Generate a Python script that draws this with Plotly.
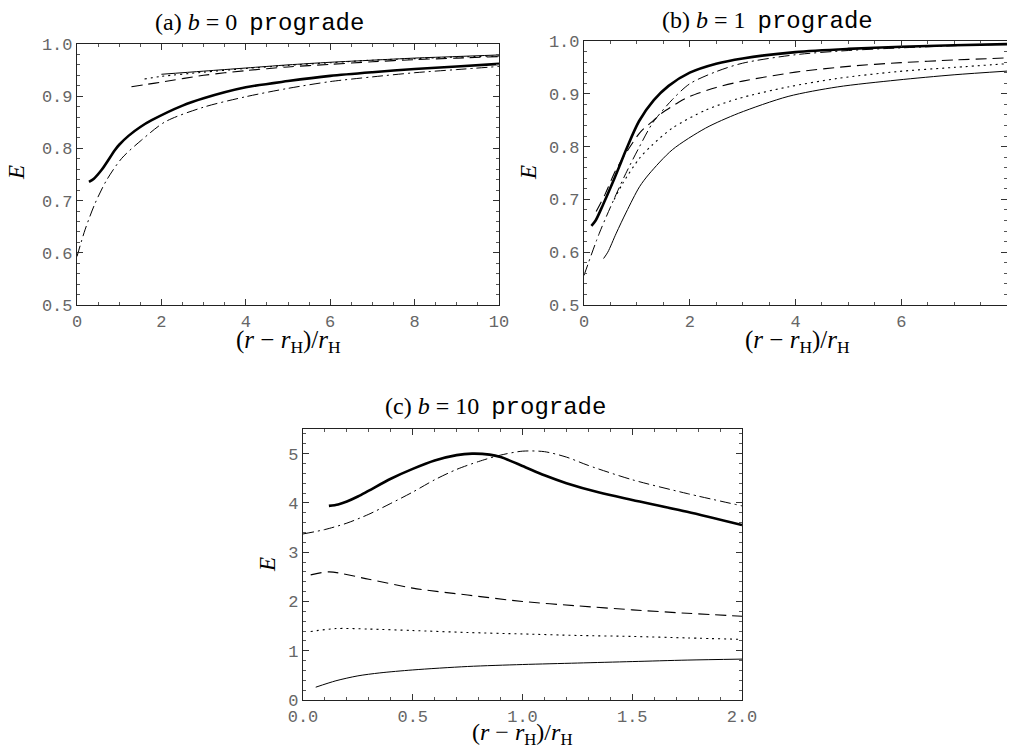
import plotly.graph_objects as go

# page body has an 8px margin; figure is sized so the page is 1015x753
OFF = 8
W, H = 1015 - 2 * OFF, 753 - 2 * OFF

# ---------------- data: panel (a) b=0 ----------------
a_thick_x = [0.284, 0.4, 0.585, 0.9, 1.0, 1.22, 1.5, 1.77, 2.5, 3.0, 4.0, 5.0, 6.0, 7.0, 8.0, 9.0, 10.0]
a_thick_y = [0.736, 0.742, 0.759, 0.797, 0.807, 0.824, 0.841, 0.854, 0.882, 0.896, 0.917, 0.929, 0.939, 0.946, 0.952, 0.957, 0.962]
a_dashdot_x = [0.0, 0.19, 0.43, 0.70, 1.06, 1.53, 2.09, 3.0, 4.0, 5.0, 6.0, 7.0, 8.0, 9.0, 10.0]
a_dashdot_y = [0.593, 0.644, 0.695, 0.739, 0.781, 0.816, 0.851, 0.879, 0.899, 0.915, 0.928, 0.937, 0.945, 0.951, 0.957]
a_thin_x = [2.0, 3.0, 4.0, 5.0, 6.0, 7.0, 8.0, 9.0, 10.0]
a_thin_y = [0.942, 0.948, 0.954, 0.960, 0.965, 0.969, 0.973, 0.976, 0.979]
a_dot_x = [1.6, 2.0, 3.0, 4.0, 5.0, 6.0, 7.0, 8.0, 9.0, 10.0]
a_dot_y = [0.933, 0.938, 0.946, 0.953, 0.959, 0.964, 0.969, 0.972, 0.975, 0.977]
a_dash_x = [1.29, 1.6, 2.0, 3.0, 4.0, 5.0, 6.0, 7.0, 8.0, 9.0, 10.0]
a_dash_y = [0.918, 0.922, 0.927, 0.940, 0.949, 0.956, 0.961, 0.966, 0.970, 0.973, 0.976]

# ---------------- data: panel (b) b=1 ----------------
b_thick_x = [0.14, 0.22, 0.36, 0.5, 0.65, 0.8, 1.04, 1.32, 1.6, 2.0, 2.5, 3.0, 4.0, 5.0, 6.0, 7.0, 8.0]
b_thick_y = [0.650, 0.660, 0.690, 0.722, 0.758, 0.795, 0.848, 0.888, 0.915, 0.940, 0.957, 0.967, 0.979, 0.985, 0.989, 0.992, 0.994]
b_dashdot_x = [0.0, 0.29, 0.61, 0.79, 1.05, 1.3, 1.67, 2.0, 2.5, 3.0, 4.0, 5.0, 6.0, 7.0, 8.0]
b_dashdot_y = [0.556, 0.636, 0.710, 0.749, 0.800, 0.845, 0.889, 0.919, 0.942, 0.958, 0.974, 0.982, 0.987, 0.991, 0.994]
b_dash_x = [0.23, 0.4, 0.6, 0.84, 1.07, 1.32, 1.48, 1.79, 2.0, 2.5, 3.0, 4.0, 5.0, 6.0, 7.0, 8.0]
b_dash_y = [0.677, 0.71, 0.755, 0.795, 0.828, 0.850, 0.864, 0.884, 0.895, 0.912, 0.924, 0.941, 0.952, 0.959, 0.964, 0.968]
b_dot_x = [0.57, 0.73, 1.05, 1.29, 1.67, 2.3, 2.92, 3.86, 4.79, 5.92, 7.0, 8.0]
b_dot_y = [0.70, 0.730, 0.778, 0.803, 0.835, 0.869, 0.891, 0.913, 0.929, 0.942, 0.950, 0.957]
b_thin_x = [0.37, 0.45, 0.61, 0.80, 1.05, 1.23, 1.67, 2.3, 2.92, 3.86, 4.79, 5.92, 7.0, 8.0]
b_thin_y = [0.588, 0.60, 0.636, 0.676, 0.724, 0.748, 0.794, 0.835, 0.863, 0.895, 0.913, 0.926, 0.936, 0.943]

# ---------------- data: panel (c) b=10 ----------------
c_thick_x = [0.118, 0.16, 0.2, 0.25, 0.3, 0.4, 0.5, 0.6, 0.7, 0.77, 0.85, 0.9, 1.0, 1.1, 1.2, 1.35, 1.5, 1.75, 2.0]
c_thick_y = [3.94, 3.97, 4.03, 4.13, 4.25, 4.49, 4.69, 4.86, 4.97, 5.00, 4.98, 4.93, 4.75, 4.56, 4.40, 4.21, 4.06, 3.82, 3.55]
c_dashdot_x = [0.0, 0.1, 0.2, 0.3, 0.4, 0.5, 0.6, 0.7, 0.8, 0.9, 1.0, 1.1, 1.2, 1.3, 1.5, 1.75, 2.0]
c_dashdot_y = [3.37, 3.46, 3.59, 3.77, 3.99, 4.22, 4.47, 4.68, 4.84, 4.97, 5.05, 5.04, 4.93, 4.76, 4.47, 4.19, 3.94]
c_dash_x = [0.035, 0.12, 0.3, 0.5, 0.75, 1.0, 1.25, 1.5, 1.75, 2.0]
c_dash_y = [2.54, 2.60, 2.45, 2.27, 2.13, 2.00, 1.91, 1.83, 1.76, 1.70]
c_dot_x = [0.035, 0.15, 0.3, 0.5, 0.75, 1.0, 1.25, 1.5, 1.75, 2.0]
c_dot_y = [1.39, 1.45, 1.44, 1.41, 1.37, 1.34, 1.31, 1.29, 1.26, 1.23]
c_thin_x = [0.058, 0.15, 0.25, 0.35, 0.5, 0.75, 1.0, 1.25, 1.5, 1.75, 2.0]
c_thin_y = [0.26, 0.39, 0.49, 0.55, 0.61, 0.68, 0.72, 0.75, 0.78, 0.81, 0.83]

# tick labels
a_xticks = [0, 2, 4, 6, 8, 10]
a_yticks = [0.5, 0.6, 0.7, 0.8, 0.9, 1.0]
b_xticks = [0, 2, 4, 6, 8]
b_yticks = [0.5, 0.6, 0.7, 0.8, 0.9, 1.0]
c_xticks = [0.0, 0.5, 1.0, 1.5, 2.0]
c_yticks = [0, 1, 2, 3, 4, 5]

# ---------------- styles ----------------
STY = {
    "thick": dict(color="black", width=2.6, dash="solid"),
    "thin": dict(color="black", width=1.0, dash="solid"),
    "dot": dict(color="black", width=1.1, dash="2px,4px"),
    "dash": dict(color="black", width=1.1, dash="11px,6px"),
    "dashdot": dict(color="black", width=1.0, dash="11px,4px,2px,4px"),
}

fig = go.Figure()

def add(x, y, sty, ax):
    xa = "x" if ax == 1 else f"x{ax}"
    ya = "y" if ax == 1 else f"y{ax}"
    fig.add_trace(go.Scatter(x=x, y=y, mode="lines", line=dict(**STY[sty], shape="spline", smoothing=0.8),
                             xaxis=xa, yaxis=ya, showlegend=False, hoverinfo="skip"))

add(a_dashdot_x, a_dashdot_y, "dashdot", 1)
add(a_thin_x, a_thin_y, "thin", 1)
add(a_dot_x, a_dot_y, "dot", 1)
add(a_dash_x, a_dash_y, "dash", 1)
add(a_thick_x, a_thick_y, "thick", 1)

add(b_thin_x, b_thin_y, "thin", 2)
add(b_dot_x, b_dot_y, "dot", 2)
add(b_dash_x, b_dash_y, "dash", 2)
add(b_dashdot_x, b_dashdot_y, "dashdot", 2)
add(b_thick_x, b_thick_y, "thick", 2)

add(c_thin_x, c_thin_y, "thin", 3)
add(c_dot_x, c_dot_y, "dot", 3)
add(c_dash_x, c_dash_y, "dash", 3)
add(c_dashdot_x, c_dashdot_y, "dashdot", 3)
add(c_thick_x, c_thick_y, "thick", 3)

MONO = "Liberation Mono, Courier New, monospace"
SERIF = "Liberation Serif, Times New Roman, serif"

def clamp(v):
    return max(0.0, min(1.0, v))

# page-pixel positions (as in the reference) converted to paper fractions
def px_dom_x(l, r):
    return [clamp((l - OFF) / W), clamp((r - OFF) / W)]

def px_dom_y(t, b):
    return [clamp(1 - (b - OFF) / H), clamp(1 - (t - OFF) / H)]

def axis(dom, rng, ticks, fmt, minor_dtick, anchor):
    return dict(domain=dom, range=rng, tickvals=ticks, ticktext=[fmt(v) for v in ticks],
                automargin=False,
                showgrid=False, zeroline=False, showline=True, linecolor="#222", linewidth=1.2,
                mirror="ticks", ticks="inside", ticklen=6, tickwidth=1, tickcolor="#333",
                minor=dict(dtick=minor_dtick, ticks="inside", ticklen=3, tickcolor="#555", showgrid=False),
                tickfont=dict(family=MONO, size=17, color="#666"), anchor=anchor, ticklabelstandoff=0)

f1 = lambda v: f"{v:.1f}"
f0 = lambda v: f"{v:g}"

fig.update_layout(
    template=None,
    width=W, height=H, margin=dict(l=0, r=0, t=0, b=0, autoexpand=False),
    paper_bgcolor="white", plot_bgcolor="white",
    xaxis=axis(px_dom_x(77, 499), [0, 10], a_xticks, f0, 0.5, "y"),
    yaxis=axis(px_dom_y(44, 305), [0.5, 1.0], a_yticks, f1, 0.02, "x"),
    xaxis2=axis(px_dom_x(584, 1011), [0, 8], b_xticks, f0, 0.5, "y2"),
    yaxis2=axis(px_dom_y(41, 305), [0.5, 1.0], b_yticks, f1, 0.02, "x2"),
    xaxis3=axis(px_dom_x(303, 742), [0, 2], c_xticks, f1, 0.1, "y3"),
    yaxis3=axis(px_dom_y(429, 700), [0, 5.5], c_yticks, f0, 0.2, "x3"),
)

def ann(text, xpx, ypx, size=18, angle=0):
    fig.add_annotation(text=text, x=(xpx - OFF) / W, y=1 - (ypx - OFF) / H, xref="paper", yref="paper",
                       showarrow=False, xanchor="center", yanchor="middle", textangle=angle,
                       font=dict(family=SERIF, size=size, color="black"))

def ttl(label, b):
    return (f"({label}) <i>b</i> = {b}  "
            f"<span style='font-family:Liberation Mono, monospace'>prograde</span>")

xlab = "(<i>r</i> − <i>r</i><sub>H</sub>)/<i>r</i><sub>H</sub>"

ann(ttl("a", 0), 260, 23, 24)
ann(ttl("b", 1), 767, 21, 24)
ann(ttl("c", 10), 495, 407, 24)
ann(xlab, 288, 341, 25)
ann(xlab, 797, 341, 25)
ann(xlab, 522, 734, 24)
ann("<i>E</i>", 17, 173, 23, -90)
ann("<i>E</i>", 529, 173, 23, -90)
ann("<i>E</i>", 267, 565, 23, -90)

fig.write_html("out.html")
